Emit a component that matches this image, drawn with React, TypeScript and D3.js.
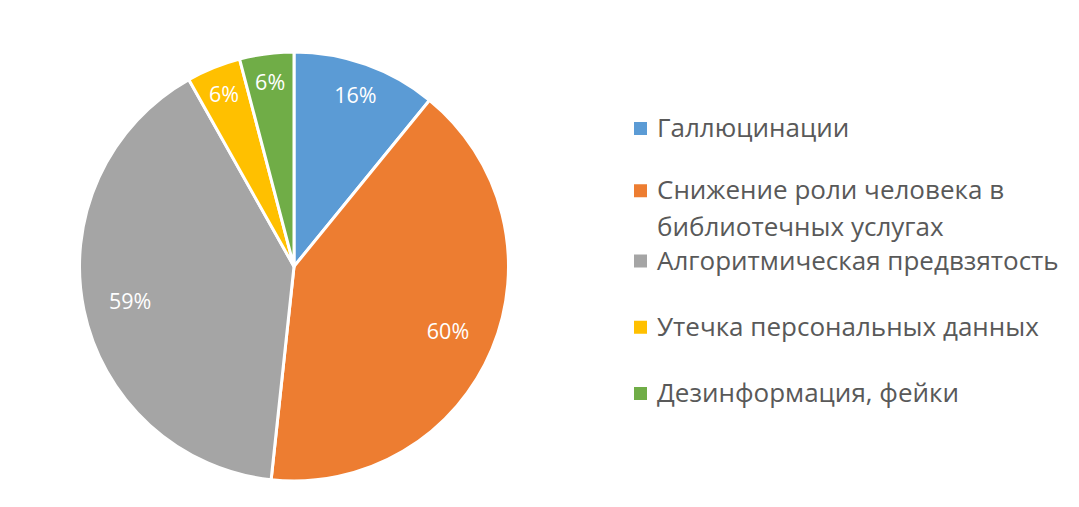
import React from "react";
import * as d3 from "d3";

// slice data (percent labels as they appear on the chart)
const categories = [
  "Галлюцинации",
  "Снижение роли человека в библиотечных услугах",
  "Алгоритмическая предвзятость",
  "Утечка персональных данных",
  "Дезинформация, фейки",
];
const values = [16, 60, 59, 6, 6];
const colors = ["#5B9BD5", "#ED7D31", "#A5A5A5", "#FFC000", "#70AD47"];
// legend lines (the second entry wraps in two lines)
const legendLines = [
  ["Галлюцинации"],
  ["Снижение роли человека в", "библиотечных услугах"],
  ["Алгоритмическая предвзятость"],
  ["Утечка персональных данных"],
  ["Дезинформация, фейки"],
];

const W = 1079;
const H = 507;
const cx = 294;
const cy = 266.5;
const R = 214.5;

export default function App() {
  const pie = d3.pie<number>().sort(null).value((d) => d);
  const arcs = pie(values);
  const arcGen = d3.arc<d3.PieArcDatum<number>>().innerRadius(0).outerRadius(R);

  // labels sit a bit further out on the thin slices
  const labelPos = (a: d3.PieArcDatum<number>) => {
    const r = R * (0.88 - 0.0017 * a.value);
    const ang = (a.startAngle + a.endAngle) / 2;
    return [Math.sin(ang) * r, -Math.cos(ang) * r];
  };

  // legend row baselines
  const rowY = d3.scaleLinear().domain([0, 4]).range([137, 402]);
  const lineGap = 37;

  return (
    <svg
      width={W}
      height={H}
      style={{ position: "absolute", left: 0, top: 0, background: "#fff" }}
      fontFamily="'Open Sans', 'Noto Sans', sans-serif"
    >
      <g transform={`translate(${cx},${cy})`}>
        {arcs.map((a, i) => (
          <path
            key={categories[i]}
            d={arcGen(a) || ""}
            fill={colors[i]}
            stroke="#fff"
            strokeWidth={3}
            strokeLinejoin="round"
          />
        ))}
        {arcs.map((a, i) => {
          const [x, y] = labelPos(a);
          return (
            <text
              key={"l" + i}
              x={x}
              y={y}
              textAnchor="middle"
              dominantBaseline="central"
              fill="#fff"
              fontSize={21.5}
            >
              {values[i]}%
            </text>
          );
        })}
      </g>
      <g>
        {legendLines.map((lines, i) => {
          const y = i === 1 ? rowY(1) - 4 : rowY(i);
          return (
            <g key={"lg" + i}>
              <rect x={634} y={y - 15} width={13} height={13} fill={colors[i]} />
              {lines.map((t, j) => (
                <text
                  key={j}
                  x={657}
                  y={y + j * lineGap}
                  fill="#595959"
                  fontSize={26}
                >
                  {t}
                </text>
              ))}
            </g>
          );
        })}
      </g>
    </svg>
  );
}
